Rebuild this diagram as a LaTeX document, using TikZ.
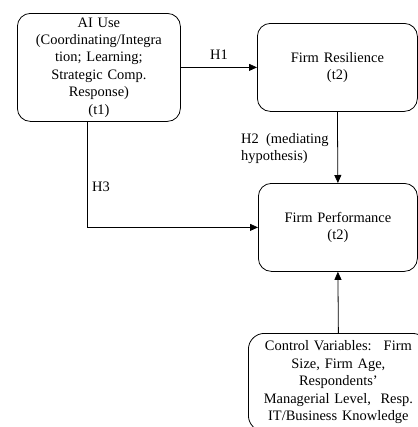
\documentclass[tikz,border=0pt]{standalone}
\usepackage{fontspec}
\setmainfont{Liberation Serif}
\usetikzlibrary{arrows.meta}
\tikzset{
  box/.style={draw, line width=0.8pt, rounded corners=13bp, align=center, anchor=north west, inner sep=2bp,
    font=\fontsize{14.5}{17.5}\selectfont},
  lbl/.style={font=\fontsize{14.5}{17.5}\selectfont, inner sep=0pt, align=left},
  conn/.style={line width=0.8pt, -{Triangle[length=8bp,width=7bp]}}
}
\begin{document}
\begin{tikzpicture}[x=1bp,y=-1bp]
\useasboundingbox (0,0) rectangle (418,427);
\clip (0,0) rectangle (418,427);
\node[box, minimum width=163bp, minimum height=108bp, text width=155bp] (ai) at (17,13)
  {AI Use\\(Coordinating/Integra\\tion; Learning;\\Strategic Comp.\\Response)\\(t1)};
\node[box, minimum width=160bp, minimum height=88bp, text width=150bp] (fr) at (257,23)
  {Firm Resilience\\(t2)};
\node[box, minimum width=159bp, minimum height=88bp, text width=150bp] (fp) at (258,183)
  {Firm Performance\\(t2)};
\node[box, rounded corners=16bp, minimum width=180bp, minimum height=98bp, text width=172bp] (cv) at (248,333)
  {Control Variables:~ Firm\\Size, Firm Age,\\Respondents’\\Managerial Level,~ Resp.\\IT/Business Knowledge};
\coordinate (h3x) at (87,0);
\draw[conn] (ai) -- node[lbl, above=8bp] (h1) {H1} (fr);
\draw[conn] (fr.south) -- (fp.north);
\draw[conn] (ai.south -| h3x) |- (fp.west);
\draw[conn] (cv.north) -- (fp.south);
\node[lbl, anchor=north west] (h2) at (241,133) {H2 ~(mediating\\hypothesis)};
\node[lbl, anchor=west] (h3) at (92,187) {H3};
\end{tikzpicture}
\end{document}
